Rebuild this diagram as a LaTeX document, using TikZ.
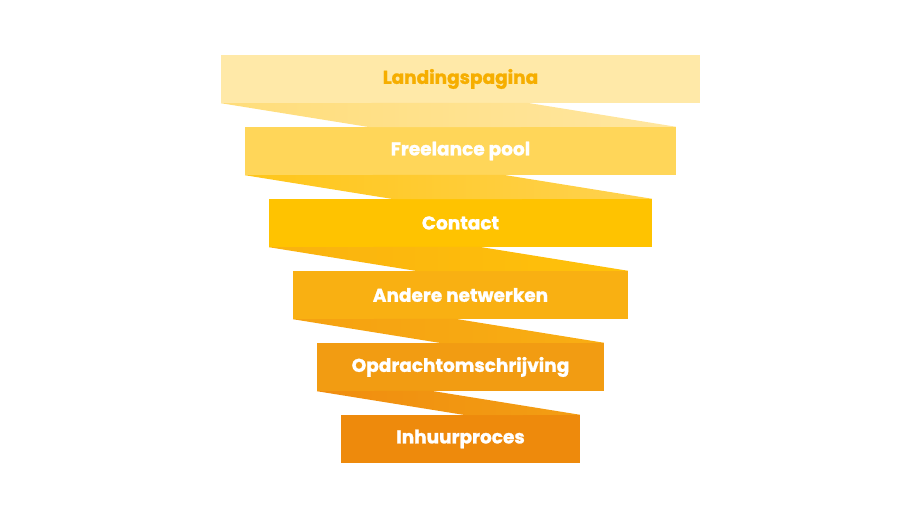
\documentclass[tikz,border=0pt]{standalone}
\usepackage{fontspec}
\setmainfont{Poppins}[BoldFeatures={FakeBold=1.3}]
\usepackage{tikz}
\definecolor{BarA}{HTML}{FFE9A8}
\definecolor{BarB}{HTML}{FFD659}
\definecolor{BarC}{HTML}{FFC300}
\definecolor{BarD}{HTML}{F9B012}
\definecolor{BarE}{HTML}{F29C12}
\definecolor{BarF}{HTML}{EE8A0C}
\definecolor{FoldAl}{HTML}{FFDD7A}
\definecolor{FoldAr}{HTML}{FFE6A0}
\definecolor{FoldBl}{HTML}{FFC61A}
\definecolor{FoldBr}{HTML}{FFD24F}
\definecolor{FoldCl}{HTML}{FAB20F}
\definecolor{FoldCr}{HTML}{FFC20A}
\definecolor{FoldDl}{HTML}{F5A111}
\definecolor{FoldDr}{HTML}{F9AE13}
\definecolor{FoldEl}{HTML}{F08D0F}
\definecolor{FoldEr}{HTML}{F39E13}
\definecolor{LabA}{HTML}{F6AE00}

\begin{document}
\begin{tikzpicture}[x=1pt,y=-1pt,
  bar/.style={minimum height=48pt,inner sep=0pt,
    font=\fontsize{18.5}{22}\selectfont\bfseries}]
  \useasboundingbox (0,0) rectangle (920,518);
  \foreach \i/\col/\txt/\lab in {
    0/BarA/LabA/Landingspagina,
    1/BarB/white/Freelance pool,
    2/BarC/white/Contact,
    3/BarD/white/Andere netwerken,
    4/BarE/white/Opdrachtomschrijving,
    5/BarF/white/Inhuurproces} {
    \node[bar,fill=\col,text=\txt,minimum width={479pt-48pt*\i}] (bar\i) at (460.5,{79+72*\i}) {\lab};
  }
  \foreach \i/\j/\cl/\cr in {0/1/FoldAl/FoldAr,1/2/FoldBl/FoldBr,2/3/FoldCl/FoldCr,
    3/4/FoldDl/FoldDr,4/5/FoldEl/FoldEr} {
    \shade[left color=\cl,right color=\cr] (bar\i.south west) -- ++(149,24)
      -- (bar\j.north east) -- ++(-149,-24) -- cycle;
  }
\end{tikzpicture}
\end{document}
